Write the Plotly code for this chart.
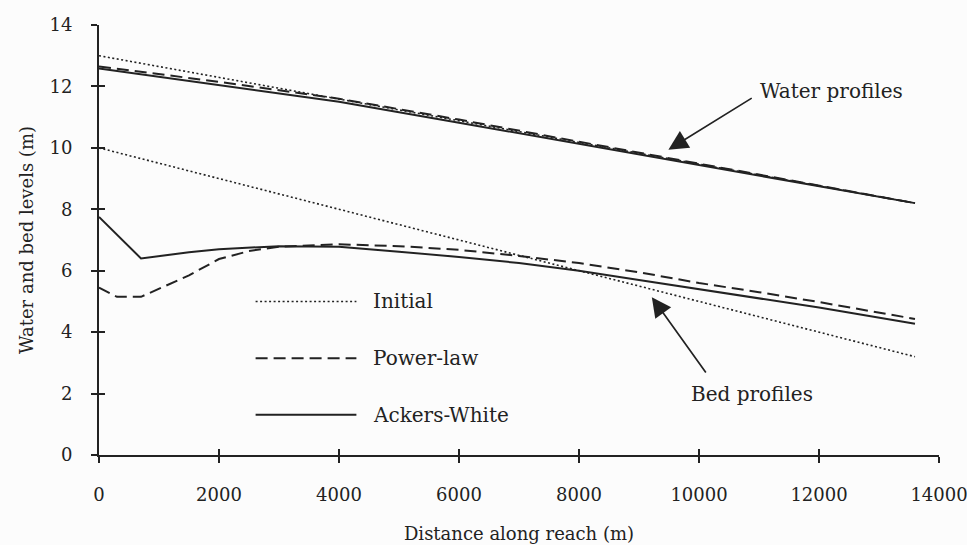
import plotly.graph_objects as go

# Distance along the reach (m)
dist_water_init = [0, 13600]
water_init = [13.0, 8.2]
dist_bed_init = [0, 13600]
bed_init = [10.0, 3.2]

dist_water = [0, 2000, 4000, 6000, 8000, 10000, 12000, 13600]
water_power = [12.65, 12.15, 11.6, 10.92, 10.2, 9.48, 8.77, 8.2]
water_ackers = [12.58, 12.03, 11.5, 10.82, 10.13, 9.44, 8.75, 8.2]

dist_bed_power = [0, 300, 700, 1200, 1500, 2000, 2500, 3000, 4000, 5000, 6000,
                  7000, 8000, 9000, 10000, 11000, 12000, 13600]
bed_power = [5.45, 5.15, 5.15, 5.6, 5.85, 6.38, 6.64, 6.78, 6.86, 6.8, 6.68,
             6.48, 6.25, 5.95, 5.6, 5.3, 4.98, 4.43]

dist_bed_ackers = [0, 700, 1500, 2000, 3000, 4000, 5000, 6000, 7000, 8000,
                   9000, 10000, 11000, 12000, 13600]
bed_ackers = [7.75, 6.4, 6.6, 6.7, 6.8, 6.78, 6.62, 6.45, 6.25, 6.0,
              5.7, 5.4, 5.1, 4.8, 4.27]

x_ticks = [0, 2000, 4000, 6000, 8000, 10000, 12000, 14000]
y_ticks = [0, 2, 4, 6, 8, 10, 12, 14]

INK = "#222222"
FONT = "DejaVu Serif"
DOT = "2px,2.5px"
DASH = "12px,6px"

fig = go.Figure()

def add_line(x, y, dash, width):
    fig.add_trace(go.Scatter(x=x, y=y, mode="lines", showlegend=False,
                             hoverinfo="skip",
                             line=dict(color=INK, width=width, dash=dash)))

add_line(dist_water_init, water_init, DOT, 1.6)
add_line(dist_bed_init, bed_init, DOT, 1.6)
add_line(dist_water, water_power, DASH, 2)
add_line(dist_bed_power, bed_power, DASH, 2)
add_line(dist_water, water_ackers, "solid", 2)
add_line(dist_bed_ackers, bed_ackers, "solid", 2)

# Key drawn inside the plotting area
key_items = [("Initial", DOT, 1.6, 5.0), ("Power-law", DASH, 2, 3.15),
             ("Ackers-White", "solid", 2, 1.31)]
for label, dash, w, yk in key_items:
    fig.add_shape(type="line", xref="x", yref="y", x0=2610, x1=4290,
                  y0=yk, y1=yk, line=dict(color=INK, width=w, dash=dash))
    fig.add_annotation(x=4530, y=yk, xref="x", yref="y", text=label,
                       showarrow=False, xanchor="left", yanchor="middle",
                       font=dict(family=FONT, size=20, color=INK))

# Callout labels with arrows
fig.add_annotation(x=12213, y=11.85, xref="x", yref="y", text="Water profiles",
                   showarrow=False, font=dict(family=FONT, size=20, color=INK))
fig.add_annotation(x=9490, y=9.94, ax=10904, ay=11.65, xref="x", yref="y",
                   axref="x", ayref="y", text="", showarrow=True,
                   arrowhead=2, arrowsize=2.3, arrowwidth=1.7, arrowcolor=INK)
fig.add_annotation(x=10882, y=1.97, xref="x", yref="y", text="Bed profiles",
                   showarrow=False, font=dict(family=FONT, size=20, color=INK))
fig.add_annotation(x=9214, y=5.14, ax=10132, ay=2.64, xref="x", yref="y",
                   axref="x", ayref="y", text="", showarrow=True,
                   arrowhead=2, arrowsize=2.3, arrowwidth=1.7, arrowcolor=INK)

fig.add_trace(go.Scatter(x=[None], y=[None], xaxis="x2", yaxis="y2",
                         showlegend=False, hoverinfo="skip"))

fig.update_layout(
    width=967, height=545,
    margin=dict(l=99, r=28, t=25, b=90),
    paper_bgcolor="#fcfcfc", plot_bgcolor="#fcfcfc",
    font=dict(family=FONT, size=18, color=INK),
    xaxis=dict(range=[0, 14000], tickvals=x_ticks, ticktext=[str(v) for v in x_ticks],
               showgrid=False, zeroline=False, showline=True, linecolor=INK,
               linewidth=2, ticks="outside", ticklen=6, tickwidth=1.5,
               tickcolor=INK, ticklabelstandoff=16, ticklabeloverflow="allow",
               automargin=False,
               tickfont=dict(family=FONT, size=18, color=INK),
               title=dict(text="Distance along reach (m)", standoff=24,
                          font=dict(family=FONT, size=18, color=INK))),
    yaxis=dict(range=[0, 14], tickvals=y_ticks, ticktext=[str(v) for v in y_ticks],
               showgrid=False, zeroline=False, showline=True, linecolor=INK,
               linewidth=2, ticks="outside", ticklen=6, tickwidth=1.5,
               tickcolor=INK, ticklabelstandoff=15, automargin=False,
               tickfont=dict(family=FONT, size=18, color=INK),
               title=dict(text="Water and bed levels (m)", standoff=11,
                          font=dict(family=FONT, size=18, color=INK))),
    xaxis2=dict(range=[0, 14000], overlaying="x", anchor="y", tickvals=x_ticks,
                showticklabels=False, showgrid=False, zeroline=False,
                showline=False, ticks="inside", ticklen=6, tickwidth=1.5,
                tickcolor=INK, automargin=False),
    yaxis2=dict(range=[0, 14], overlaying="y", anchor="x", tickvals=y_ticks,
                showticklabels=False, showgrid=False, zeroline=False,
                showline=False, ticks="inside", ticklen=6, tickwidth=1.5,
                tickcolor=INK, automargin=False),
)

fig.write_html("out.html")
